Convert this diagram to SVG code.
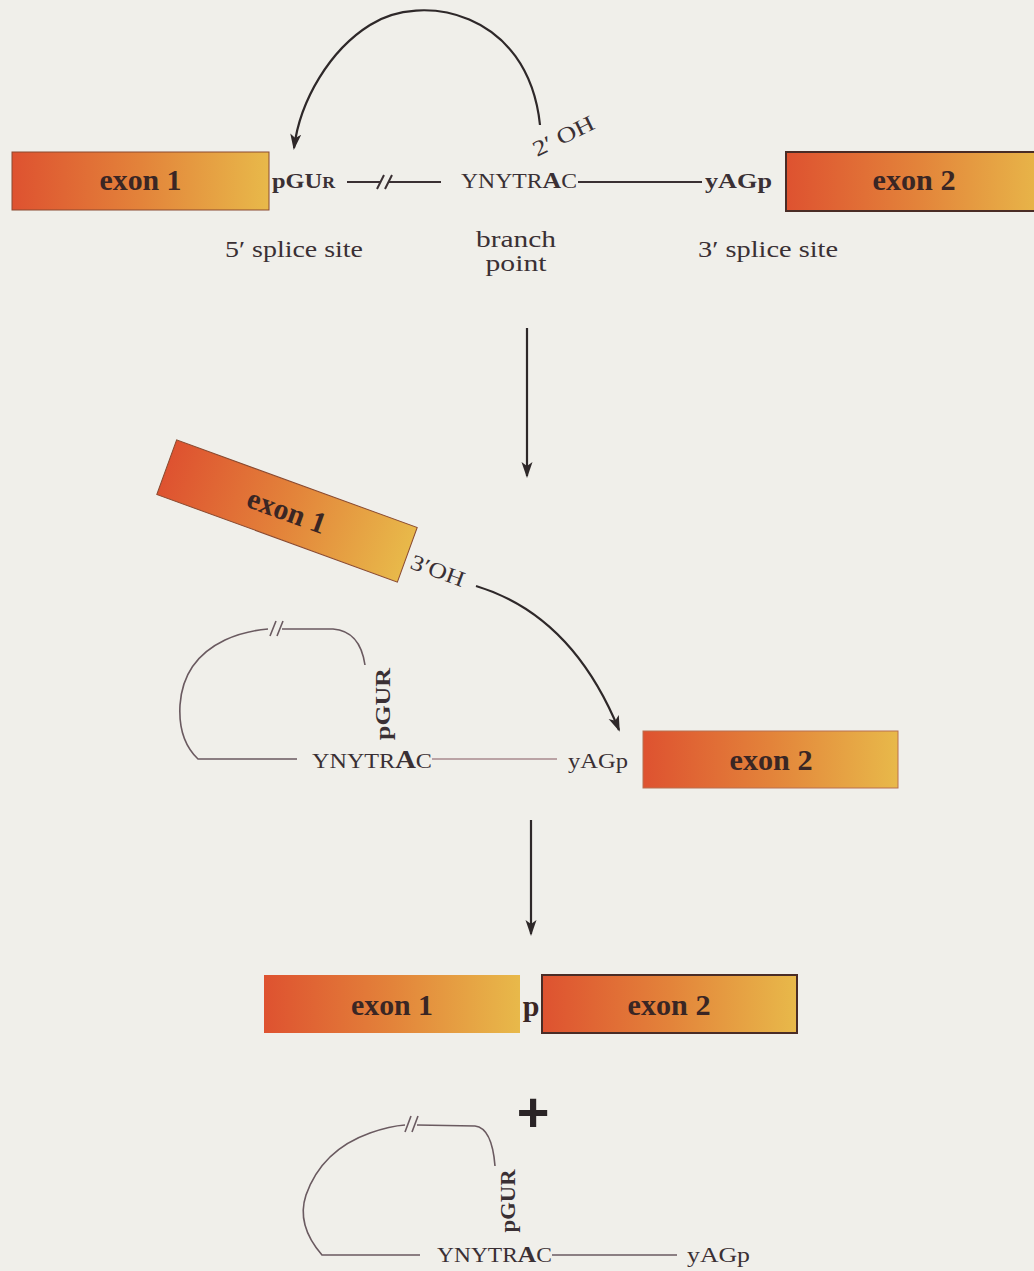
<svg xmlns="http://www.w3.org/2000/svg" width="1034" height="1271" viewBox="0 0 1034 1271">
<defs>
<linearGradient id="exonGrad" x1="0" y1="0" x2="1" y2="0">
 <stop offset="0" stop-color="#de5230"/>
 <stop offset="0.5" stop-color="#e3833a"/>
 <stop offset="1" stop-color="#e8b94a"/>
</linearGradient>
<marker id="arrow" markerUnits="userSpaceOnUse" markerWidth="18" markerHeight="14" refX="14" refY="7" orient="auto">
 <path d="M0,1.5 L16,7 L0,12.5 L4,7 Z" fill="#2e2829"/>
</marker>
<style>
 .exon{fill:url(#exonGrad)}
 .exlabel{font-family:"Liberation Serif",serif;font-weight:bold;font-size:30px;fill:#3a2624;text-anchor:middle}
 .seq{font-family:"Liberation Serif",serif;font-size:22px;fill:#3a3034}
 .b{font-weight:bold}
 .lbl{font-family:"Liberation Serif",serif;font-size:23px;fill:#3a3034}
 .strand{fill:none;stroke:#3a3033;stroke-width:2}
 .loop{fill:none;stroke:#6a5a60;stroke-width:1.6}
 .pink{fill:none;stroke:#a88a8e;stroke-width:1.6}
 .arrow{fill:none;stroke:#2e2829;stroke-width:2.2;marker-end:url(#arrow)}
</style>
</defs>
<rect x="0" y="0" width="1034" height="1271" fill="#f0efea"/>

<!-- Top row: pre-mRNA -->
<g id="exon1-top">
 <rect class="exon" x="12" y="152" width="257" height="58" stroke="#8a4a30" stroke-width="1"/>
 <text class="exlabel" x="140.5" y="190" textLength="82" lengthAdjust="spacingAndGlyphs">exon 1</text>
</g>
<g id="pGUR-top">
 <text class="seq b" x="272" y="188" textLength="63" lengthAdjust="spacingAndGlyphs">pGU<tspan font-size="16">R</tspan></text>
</g>
<g id="branch-seq-top">
 <text class="seq" x="461" y="188" textLength="116" lengthAdjust="spacingAndGlyphs">YNYTR<tspan class="b" font-size="24">A</tspan>C</text>
</g>
<g id="yAGp-top">
 <text class="seq b" x="705" y="188" textLength="67" lengthAdjust="spacingAndGlyphs">yAGp</text>
</g>
<g id="exon2-top">
 <rect class="exon" x="786" y="152" width="262" height="59" stroke="#4a2c26" stroke-width="2"/>
 <text class="exlabel" x="914" y="190" textLength="83" lengthAdjust="spacingAndGlyphs">exon 2</text>
</g>
<g id="labels-top">
 <text class="lbl" x="294" y="257" text-anchor="middle" textLength="138" lengthAdjust="spacingAndGlyphs">5′ splice site</text>
 <text class="lbl" x="516" y="247" text-anchor="middle" textLength="80" lengthAdjust="spacingAndGlyphs">branch</text>
 <text class="lbl" x="516" y="271" text-anchor="middle" textLength="61" lengthAdjust="spacingAndGlyphs">point</text>
 <text class="lbl" x="768" y="257" text-anchor="middle" textLength="140" lengthAdjust="spacingAndGlyphs">3′ splice site</text>
 <text class="seq" font-size="20" transform="translate(537,157) rotate(-26)" textLength="66" lengthAdjust="spacingAndGlyphs">2′ OH</text>
</g>

<!-- Middle row: lariat intermediate -->
<g id="exon1-mid" transform="translate(287,511) rotate(20)">
 <rect class="exon" x="-128" y="-29" width="256" height="58" stroke="#8a4a30" stroke-width="1"/>
 <text class="exlabel" x="0" y="10" textLength="82" lengthAdjust="spacingAndGlyphs">exon 1</text>
</g>
<g id="OH3-mid">
 <text class="seq" font-size="20" transform="translate(409,568) rotate(20)" textLength="56" lengthAdjust="spacingAndGlyphs">3′OH</text>
</g>
<g id="pGUR-mid">
 <text class="seq b" font-size="25" text-anchor="middle" transform="translate(390,704) rotate(-90)" textLength="72" lengthAdjust="spacingAndGlyphs">pGUR</text>
</g>
<g id="branch-seq-mid">
 <text class="seq" font-size="24" x="312" y="768" textLength="120" lengthAdjust="spacingAndGlyphs">YNYTR<tspan class="b" font-size="26">A</tspan>C</text>
</g>
<g id="yAGp-mid">
 <text class="seq" font-size="24" x="568" y="768" textLength="60" lengthAdjust="spacingAndGlyphs">yAGp</text>
</g>
<g id="exon2-mid">
 <rect class="exon" x="643" y="731" width="255" height="57" stroke="#b87050" stroke-width="1"/>
 <text class="exlabel" x="771" y="770" textLength="83" lengthAdjust="spacingAndGlyphs">exon 2</text>
</g>

<!-- Bottom row: products -->
<g id="exon1-bottom">
 <rect class="exon" x="264" y="975" width="256" height="58"/>
 <text class="exlabel" x="392" y="1015" textLength="82" lengthAdjust="spacingAndGlyphs">exon 1</text>
</g>
<g id="p-bottom">
 <text class="exlabel" x="531" y="1016">p</text>
</g>
<g id="exon2-bottom">
 <rect class="exon" x="542" y="975" width="255" height="58" stroke="#4a2c26" stroke-width="2"/>
 <text class="exlabel" x="669" y="1015" textLength="83" lengthAdjust="spacingAndGlyphs">exon 2</text>
</g>
<g id="plus">
 <text x="533" y="1131" text-anchor="middle" font-family="Liberation Sans, sans-serif" font-weight="bold" font-size="56" fill="#2a2426">+</text>
</g>
<g id="pGUR-bottom">
 <text class="seq b" font-size="22" text-anchor="middle" transform="translate(515,1201) rotate(-90)" textLength="63" lengthAdjust="spacingAndGlyphs">pGUR</text>
</g>
<g id="branch-seq-bottom">
 <text class="seq" x="437" y="1262" textLength="115" lengthAdjust="spacingAndGlyphs">YNYTR<tspan class="b" font-size="24">A</tspan>C</text>
</g>
<g id="yAGp-bottom">
 <text class="seq" x="687" y="1262" textLength="63" lengthAdjust="spacingAndGlyphs">yAGp</text>
</g>

<g id="connectors">
 <!-- top strand -->
 <path class="strand" d="M347 182 L381 182 M388 182 L441 182 M377 189 L384 175 M385 189 L392 175 M578 182 L702 182"/>
 <path class="arrow" d="M540 125 C528 10 420 -8 370 25 C330 50 300 100 294 148"/>
 <!-- step arrows -->
 <path class="arrow" d="M527 328 L527 476"/>
 <path class="arrow" d="M531 820 L531 934"/>
 <!-- middle -->
 <path class="arrow" d="M476 586 Q572 615 619 730"/>
 <path class="loop" d="M297 759 L198 759 Q178 740 180 705 Q183 660 225 640 Q245 631 268 629"/>
 <path class="loop" d="M270 636 L276 621 M277 636 L283 621" stroke-width="2.2"/>
 <path class="loop" d="M282 629 L333 629 Q360 631 365 665"/>
 <path class="pink" d="M432 759 L557 759"/>
 <!-- bottom lariat -->
 <path class="loop" d="M420 1255 L322 1255 Q296 1225 306 1195 Q322 1150 370 1133 Q390 1126 405 1125"/>
 <path class="loop" d="M405 1132 L411 1116 M412 1132 L418 1116" stroke-width="2.2"/>
 <path class="loop" d="M417 1125 L475 1126 Q492 1128 495 1166"/>
 <path class="loop" d="M552 1255 L677 1255"/>
</g>
</svg>
